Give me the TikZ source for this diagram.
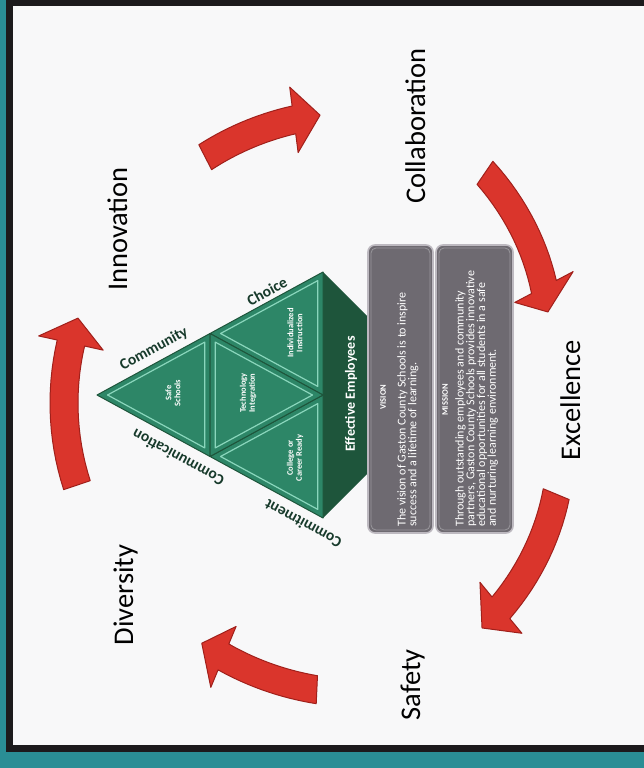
\documentclass[tikz,border=0pt]{standalone}
\usepackage{fontspec}
\setmainfont{Carlito}
\usepackage{tikz}
\definecolor{frameteal}{HTML}{2A8E95}
\definecolor{framedark}{HTML}{1C1A1C}
\definecolor{paper}{HTML}{F8F8F9}
\definecolor{arrowred}{HTML}{DA352C}
\definecolor{arrowdark}{HTML}{A0201B}
\definecolor{pyrgreen}{HTML}{2D8667}
\definecolor{pyrlight}{HTML}{8AD6BC}
\definecolor{pyrdark}{HTML}{1E553B}
\definecolor{labelgreen}{HTML}{173A2B}
\definecolor{boxgrey}{HTML}{6E6A71}
\definecolor{boxedge}{HTML}{BDB9C0}
\usetikzlibrary{calc}

\begin{document}
\begin{tikzpicture}[x=1pt,y=-1pt,
  word/.style={rotate=90,anchor=base,inner sep=0pt,font=\fontsize{28.5}{28.5}\selectfont},
  edgelbl/.style={inner sep=0pt,text=labelgreen,font=\bfseries\fontsize{15.5}{15.5}\selectfont},
  celltxt/.style={rotate=90,align=center,text=white,inner sep=0pt,font=\bfseries\fontsize{8.5}{9}\selectfont},
  cell/.style={fill=pyrgreen,draw=pyrdark,line width=1pt,line join=round},
  bevel/.style={draw=pyrlight,line width=1.2pt,line join=round},
  panel/.style={draw=boxedge,fill=boxgrey,line width=1.6pt,rounded corners=7pt},
  panelrim/.style={draw=boxgrey!70!white,line width=0.8pt,rounded corners=5pt},
  panelhead/.style={rotate=90,text=white,inner sep=0pt,font=\bfseries\fontsize{8.5}{8.5}\selectfont},
  paneltxt/.style={rotate=90,anchor=north west,align=left,text=white,inner sep=0pt,
                   font=\fontsize{12}{10.8}\selectfont},
  ringarrow/.style={fill=arrowred,draw=arrowdark,line width=1pt,line join=round}]
\useasboundingbox (0,0) rectangle (644,768);
% frame
\fill[frameteal] (0,0) rectangle (644,768);
\fill[framedark] (6,0) rectangle (650,752);
\fill[paper] (13,6) rectangle (650,745);

% values round the cycle
\node[word] (inno) at (127,229) {Innovation};
\node[word] (collab) at (425,126) {Collaboration};
\node[word] (excel) at (580,400) {Excellence};
\node[word] (safe) at (420,685) {Safety};
\node[word] (divers) at (133,595) {Diversity};

% curved arrows
\foreach \aA/\aB/\rA/\rB in {-117.2/-92/273/285, -55.7/-22/275/235,
    22.6/56.3/245/274, 92.6/117.8/290/275, 161.4/198/267/265}{
  \pgfmathsetmacro{\aH}{\aB-26/(0.5*(\rA+\rB))*180/pi}
  \pgfmathsetmacro{\rH}{\rA+(\rB-\rA)*(\aH-\aA)/(\aB-\aA)}
  \path[ringarrow,shift={(330,400)}]
    plot[domain=\aA:\aH,samples=16,variable=\t] (\t:{\rA+(\rB-\rA)*(\t-\aA)/(\aB-\aA)+14})
    -- (\aH:{\rH+33}) -- (\aB:\rB) -- (\aH:{\rH-33})
    -- plot[domain=\aH:\aA,samples=16,variable=\t] (\t:{\rA+(\rB-\rA)*(\t-\aA)/(\aB-\aA)-14})
    -- cycle;
}

% pyramid
\coordinate (A) at (97,395);
\coordinate (B) at (323,272);
\coordinate (C) at (323,518);
\coordinate (B2) at (368,317);
\coordinate (C2) at (368,473);
\coordinate (ab) at ($(A)!0.5!(B)$);
\coordinate (ac) at ($(A)!0.5!(C)$);
\coordinate (bc) at ($(B)!0.5!(C)$);
\fill[pyrdark] (B) -- (B2) -- (C2) -- (C) -- cycle;
\foreach \p/\q/\r in {A/ab/ac, ab/B/bc, ac/bc/C, ab/bc/ac}{
  \draw[cell] (\p) -- (\q) -- (\r) -- cycle;
  \coordinate (g) at ($(\p)!0.5!(\q)!0.3333!(\r)$);
  \draw[bevel] ($(g)!0.86!(\p)$) -- ($(g)!0.86!(\q)$) -- ($(g)!0.86!(\r)$) -- cycle;
}
\node[celltxt] (safesch) at (173,393) {Safe\\Schools};
\node[celltxt] (techint) at (248,393) {Technology\\Integration};
\node[celltxt] (indiv) at (295,333) {Individualized\\Instruction};
\node[celltxt] (college) at (295,458) {College or\\Career Ready};
\node[rotate=90,text=white,font=\bfseries\fontsize{14}{14}\selectfont] (effemp) at (351,394) {Effective Employees};

% labels along the edges
\node[edgelbl,rotate=28.6] (commun) at (154,349) {Community};
\node[edgelbl,rotate=28.6] (choice) at (267,291) {Choice};
\node[edgelbl,rotate=151.4] (commcat) at (178,458) {Communication};
\node[edgelbl,rotate=151.4] (commit) at (303,524) {Commitment};

% vision and mission panels
\draw[panel] (368,245) rectangle (433,533);
\draw[panel] (436,245) rectangle (513,533);
\draw[panelrim] (371,248) rectangle (430,530);
\draw[panelrim] (439,248) rectangle (510,530);
\node[panelhead] (vishead) at (383,397) {VISION};
\node[paneltxt] (visbody) at (397,527)
  {The vision of Gaston County Schools is to inspire\\success and a lifetime of learning.};
\node[panelhead] (mishead) at (445,400) {MISSION};
\node[paneltxt] (misbody) at (455,527)
  {Through outstanding employees and community\\partners, Gaston County Schools provides innovative\\educational opportunities for all students in a safe\\and nurturing learning environment.};
\end{tikzpicture}
\end{document}
